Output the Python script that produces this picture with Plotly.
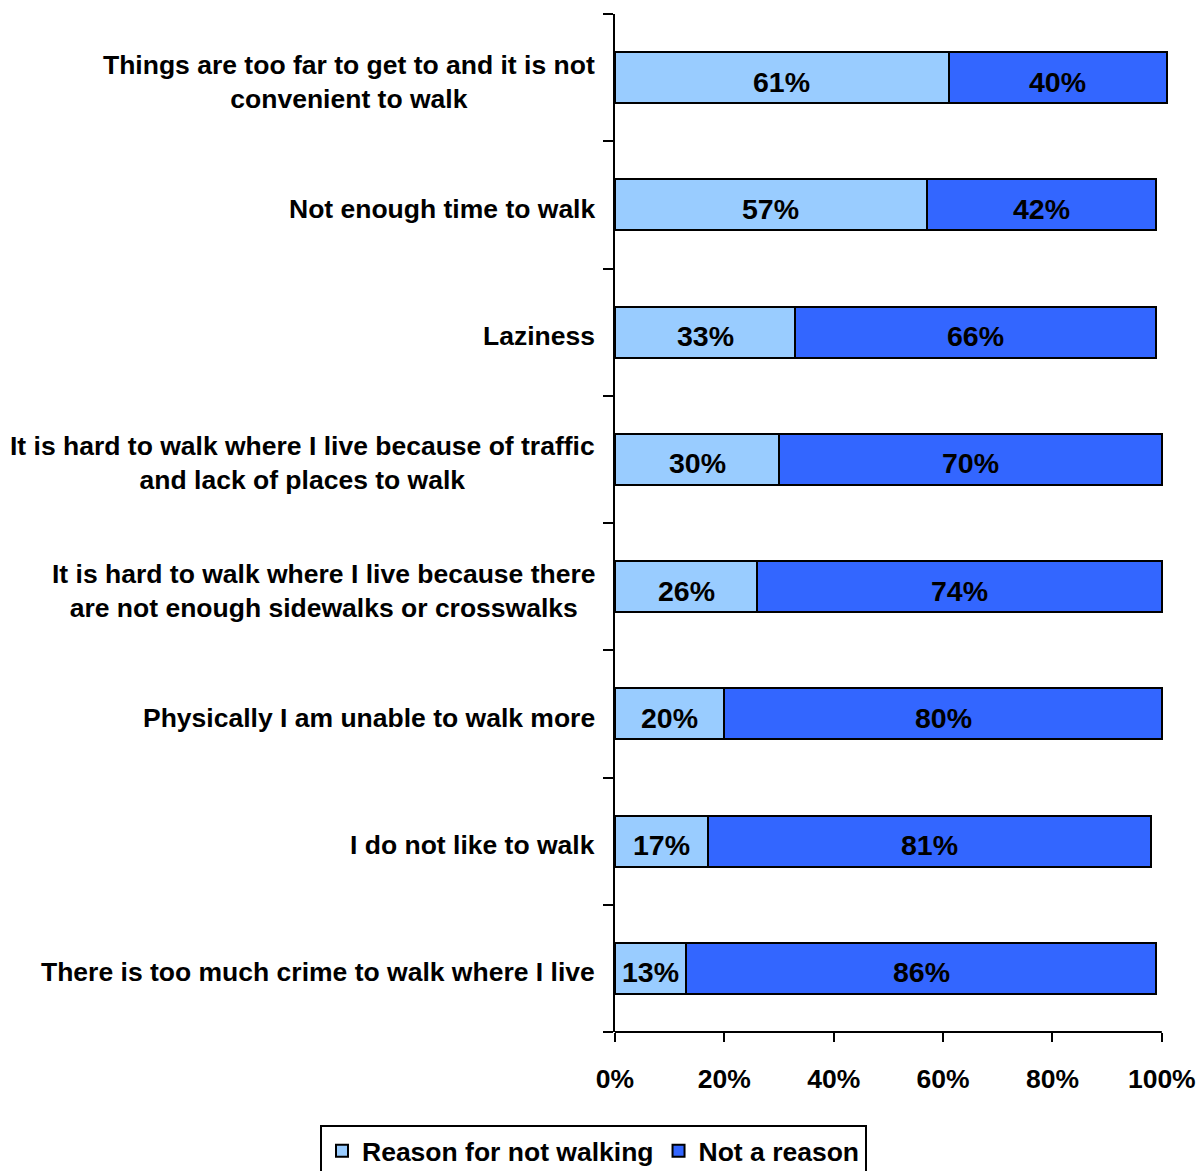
import plotly.graph_objects as go

categories = [
    "Things are too far to get to and it is not<br>convenient to walk",
    "Not enough time to walk",
    "Laziness",
    "It is hard to walk where I live because of traffic<br>and lack of places to walk",
    "It is hard to walk where I live because there<br>are not enough sidewalks or crosswalks",
    "Physically I am unable to walk more",
    "I do not like to walk",
    "There is too much crime to walk where I live",
]
reason = [61, 57, 33, 30, 26, 20, 17, 13]
not_reason = [40, 42, 66, 70, 74, 80, 81, 86]
series_names = ["Reason for not walking", "Not a reason"]
x_ticks = [0, 20, 40, 60, 80, 100]
x_tick_labels = ["0%", "20%", "40%", "60%", "80%", "100%"]

FONT = "Liberation Sans, Arial, sans-serif"
FS = 26.5
FS_BAR = 28.5
W, H = 1197, 1171

fig = go.Figure()
for name, vals, color in [(series_names[0], reason, "#99CCFF"), (series_names[1], not_reason, "#3366FF")]:
    fig.add_trace(go.Bar(
        y=categories, x=vals, name=name, orientation="h",
        marker=dict(color=color, line=dict(color="black", width=2)),
        textposition="none", hoverinfo="skip",
    ))

# value labels centred in each segment
for c, r, n in zip(categories, reason, not_reason):
    for xc, v in [(r / 2, r), (r + n / 2, n)]:
        fig.add_annotation(
            x=xc, y=c, xref="x", yref="y", text=f"{v}%", showarrow=False,
            xanchor="center", yshift=-4,
            font=dict(family=FONT, size=FS_BAR, color="black", weight="bold"),
        )

# category labels
for c in categories:
    fig.add_annotation(
        x=0, y=c, xref="x", yref="y", text=c, showarrow=False,
        xanchor="right", xshift=-18, yshift=-4, align="center",
        font=dict(family=FONT, size=FS, color="black", weight="bold"),
    )

fig.update_layout(
    barmode="stack", bargap=0.6,
    width=W, height=H,
    margin=dict(l=615, r=27, t=14, b=139, autoexpand=False),
    plot_bgcolor="white", paper_bgcolor="white",
    font=dict(family=FONT, size=FS, color="black", weight="bold"),
    showlegend=True,
    legend=dict(
        orientation="h", xref="container", yref="container",
        x=593.5 / W, xanchor="center", y=1 - 1125 / H, yanchor="top",
        bordercolor="black", borderwidth=2, bgcolor="white",
        font=dict(family=FONT, size=FS, color="black", weight="bold"),
        itemwidth=30, traceorder="normal", tracegroupgap=0,
    ),
)
fig.update_xaxes(
    range=[0, 101.5], tickvals=x_ticks, ticktext=x_tick_labels,
    showgrid=False, zeroline=False, showline=False, automargin=False,
    ticks="outside", ticklen=9, tickwidth=2, tickcolor="black",
    ticklabelstandoff=14,
    tickfont=dict(family=FONT, size=FS, color="black", weight="bold"),
)
# x axis baseline from 0% to 100%
fig.add_shape(type="line", xref="x", yref="paper", x0=0, x1=x_ticks[-1], y0=0, y1=0,
              line=dict(color="black", width=2))
fig.update_yaxes(
    type="category", categoryorder="array", categoryarray=categories[::-1],
    showticklabels=False, showgrid=False, zeroline=False, automargin=False,
    showline=True, linecolor="black", linewidth=2,
    ticks="outside", tickson="boundaries", ticklen=10, tickwidth=2, tickcolor="black",
)

fig.write_html("out.html", config={"displayModeBar": False},
               post_script="document.body.style.margin='0';")
